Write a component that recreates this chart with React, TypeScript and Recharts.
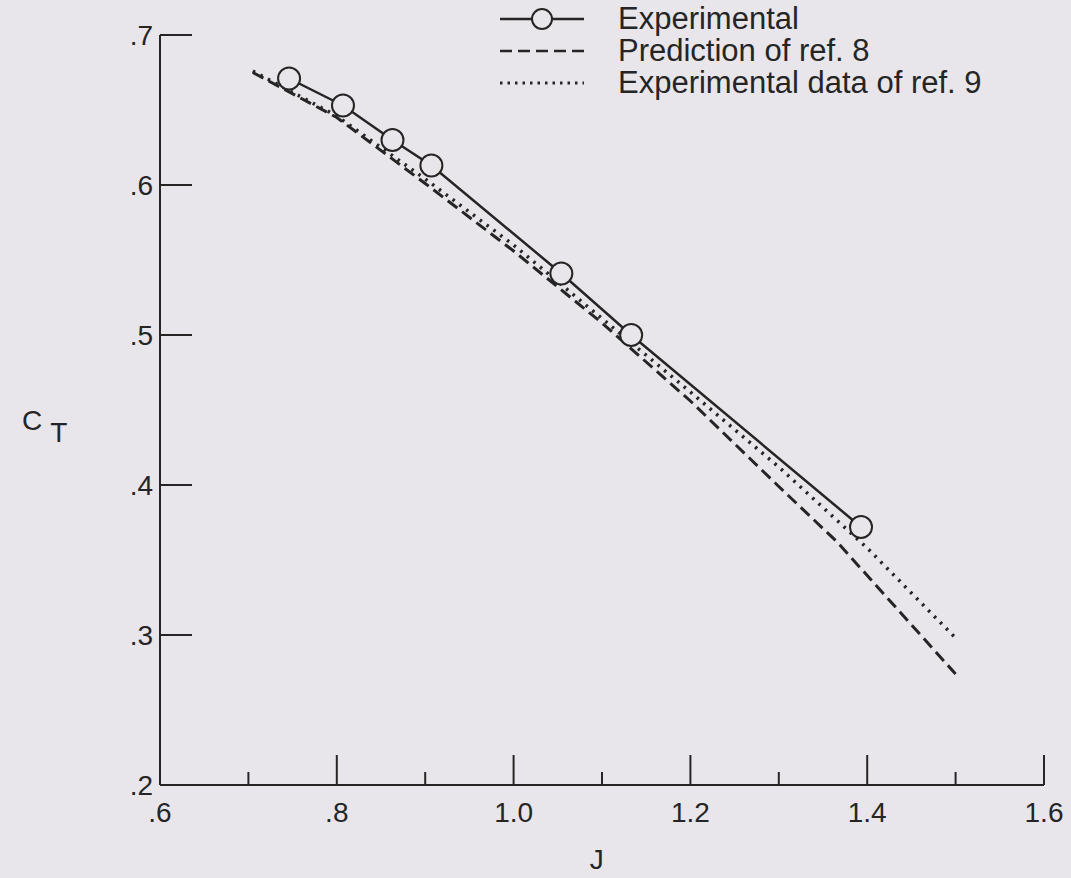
import React from 'react';
import { LineChart, Line, XAxis, YAxis, Legend, Label } from 'recharts';

// Thrust coefficient C_T against advance ratio J
const expJ = [0.746, 0.807, 0.863, 0.907, 1.054, 1.133, 1.393];
const expCT = [0.671, 0.653, 0.63, 0.613, 0.541, 0.5, 0.372];

const ref8J = [0.705, 0.8, 0.9, 1.0, 1.1, 1.2, 1.3, 1.366, 1.5];
const ref8CT = [0.675, 0.645, 0.601, 0.556, 0.508, 0.456, 0.399, 0.362, 0.274];

const ref9J = [0.705, 0.8, 0.9, 1.0, 1.1, 1.2, 1.3, 1.4, 1.5];
const ref9CT = [0.676, 0.646, 0.604, 0.56, 0.511, 0.462, 0.412, 0.358, 0.298];

const xTicks = [0.6, 0.7, 0.8, 0.9, 1.0, 1.1, 1.2, 1.3, 1.4, 1.5, 1.6];
const yTicks = [0.2, 0.3, 0.4, 0.5, 0.6, 0.7];

const legendItems = [
  { key: 'exp', label: 'Experimental' },
  { key: 'ref8', label: 'Prediction of ref. 8' },
  { key: 'ref9', label: 'Experimental data of ref. 9' },
];

const BG = '#e8e6ea';
const INK = '#252525';
const FONT = '"Liberation Sans", Arial, Helvetica, sans-serif';
const TICK_FS = 28;
const LEGEND_FS = 31;

const toRows = (xs: number[], ys: number[]) => xs.map((J, i) => ({ J, CT: ys[i] }));
const expData = toRows(expJ, expCT);
const ref8Data = toRows(ref8J, ref8CT);
const ref9Data = toRows(ref9J, ref9CT);

const fmt = (v: number) => (v < 1 ? v.toFixed(1).replace(/^0/, '') : v.toFixed(1));

const XTick = (props: any) => {
  const { x, y, payload } = props;
  const v = payload.value as number;
  const major = Math.round(v * 10) % 2 === 0;
  return (
    <g>
      {Math.abs(v - 0.6) > 1e-6 && (
        <line x1={x} y1={y} x2={x} y2={y - (major ? 30 : 13)} stroke={INK} strokeWidth={2} />
      )}
      {major && (
        <text x={x} y={y + 37} textAnchor="middle" fontSize={TICK_FS} fontFamily={FONT} fill={INK}>
          {fmt(v)}
        </text>
      )}
    </g>
  );
};

const YTick = (props: any) => {
  const { x, y, payload } = props;
  const v = payload.value as number;
  return (
    <g>
      {Math.abs(v - 0.2) > 1e-6 && (
        <line x1={x} y1={y} x2={x + 32} y2={y} stroke={INK} strokeWidth={2} />
      )}
      <text x={x - 7} y={y + 10} textAnchor="end" fontSize={TICK_FS} fontFamily={FONT} fill={INK}>
        {fmt(v)}
      </text>
    </g>
  );
};

const Marker = (props: any) => {
  const { cx, cy } = props;
  return <circle cx={cx} cy={cy} r={11} fill={BG} stroke={INK} strokeWidth={2} />;
};

const LegendSymbol = ({ kind }: { kind: string }) => (
  <svg width={90} height={30} style={{ display: 'block' }}>
    {kind === 'exp' && (
      <>
        <line x1={2} y1={15} x2={86} y2={15} stroke={INK} strokeWidth={2.5} />
        <circle cx={44} cy={15} r={10} fill={BG} stroke={INK} strokeWidth={2} />
      </>
    )}
    {kind === 'ref8' && (
      <line x1={2} y1={15} x2={86} y2={15} stroke={INK} strokeWidth={2.5} strokeDasharray="12 6" />
    )}
    {kind === 'ref9' && (
      <line x1={2} y1={15} x2={86} y2={15} stroke={INK} strokeWidth={3} strokeDasharray="2.5 5" />
    )}
  </svg>
);

const renderLegend = () => (
  <div style={{ fontFamily: FONT, fontSize: LEGEND_FS, color: INK, lineHeight: '32px' }}>
    {legendItems.map((item) => (
      <div key={item.key} style={{ display: 'flex', alignItems: 'center', height: 32 }}>
        <LegendSymbol kind={item.key} />
        <span style={{ marginLeft: 30, whiteSpace: 'nowrap' }}>{item.label}</span>
      </div>
    ))}
  </div>
);

export default function App() {
  return (
    <div style={{ position: 'fixed', left: 0, top: 0, width: 1071, height: 878, background: BG }}>
      <LineChart width={1071} height={878} margin={{ top: 35, right: 27, bottom: 33, left: 0 }}>
        <XAxis
          dataKey="J"
          type="number"
          domain={[0.6, 1.6]}
          ticks={xTicks}
          allowDataOverflow
          axisLine={{ stroke: INK, strokeWidth: 2 }}
          tickLine={false}
          tickSize={0}
          tickMargin={0}
          tick={<XTick />}
          height={60}
        >
          <Label
            content={({ viewBox }: any) => (
              <text
                x={viewBox.x + viewBox.width * 0.494}
                y={viewBox.y + 84}
                textAnchor="middle"
                fontSize={TICK_FS}
                fontFamily={FONT}
                fill={INK}
              >
                J
              </text>
            )}
          />
        </XAxis>
        <YAxis
          dataKey="CT"
          type="number"
          domain={[0.2, 0.7]}
          ticks={yTicks}
          allowDataOverflow
          axisLine={{ stroke: INK, strokeWidth: 2 }}
          tickLine={false}
          tickSize={0}
          tickMargin={0}
          tick={<YTick />}
          width={160}
        >
          <Label
            content={() => (
              <text x={22} y={430} fontSize={TICK_FS} fontFamily={FONT} fill={INK}>
                C
                <tspan dx={8} dy={12}>T</tspan>
              </text>
            )}
          />
        </YAxis>
        <Legend
          layout="vertical"
          align="center"
          verticalAlign="middle"
          content={renderLegend}
          wrapperStyle={{ top: 3, left: 498, width: 570, height: 100 }}
        />
        <Line
          data={ref8Data}
          dataKey="CT"
          type="linear"
          stroke={INK}
          strokeWidth={3}
          strokeDasharray="12 6"
          dot={false}
          activeDot={false}
          isAnimationActive={false}
        />
        <Line
          data={ref9Data}
          dataKey="CT"
          type="linear"
          stroke={INK}
          strokeWidth={3.5}
          strokeDasharray="2.5 6"
          dot={false}
          activeDot={false}
          isAnimationActive={false}
        />
        <Line
          data={expData}
          dataKey="CT"
          type="linear"
          stroke={INK}
          strokeWidth={2.5}
          dot={<Marker />}
          activeDot={false}
          isAnimationActive={false}
        />
      </LineChart>
    </div>
  );
}
